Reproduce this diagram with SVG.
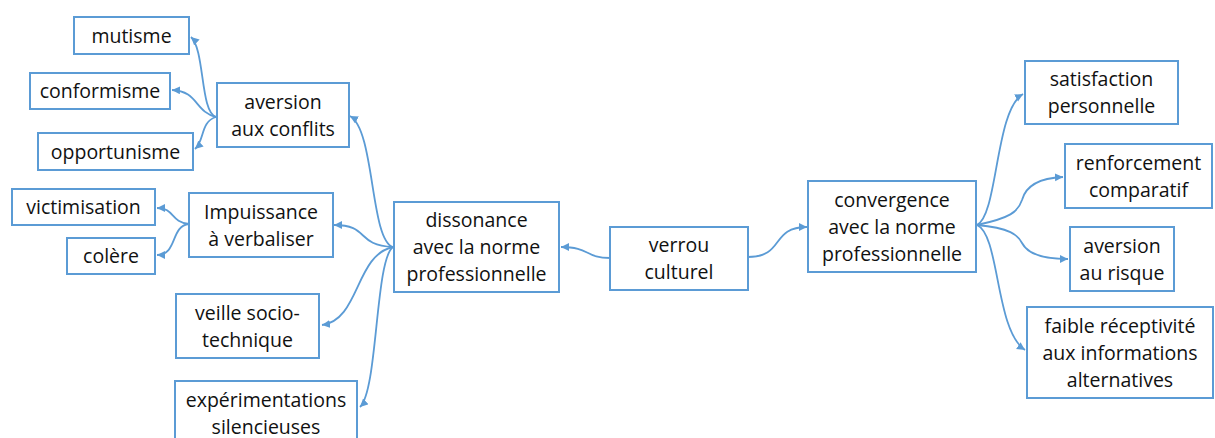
<svg xmlns="http://www.w3.org/2000/svg" width="1215" height="438" viewBox="0 0 1215 438">
<style>
.box{fill:#fff;stroke:#5B9BD5;stroke-width:2}
.t{font-family:"Open Sans","Noto Sans",sans-serif;font-size:19.5px;fill:#111;text-anchor:middle}
.c{fill:none;stroke:#5B9BD5;stroke-width:1.8;marker-end:url(#ah)}
</style>
<defs>
<marker id="ah" markerUnits="userSpaceOnUse" markerWidth="10" markerHeight="10" refX="8" refY="4" orient="auto">
<path d="M0,0 L8,4 L0,8 Z" fill="#5B9BD5"/>
</marker>
</defs>
<rect width="1215" height="438" fill="#fff"/>
<g id="connectors">
<path class="c" d="M216,117 C200,112 205,50 191,37"/>
<path class="c" d="M216,117 C195,112 198,91 172,90"/>
<path class="c" d="M216,117 C200,122 205,140 195,149"/>
<path class="c" d="M189,224 C170,222 175,208 157,208"/>
<path class="c" d="M189,224 C170,226 178,255 157,255"/>
<path class="c" d="M393,247 C370,240 375,130 350,116"/>
<path class="c" d="M393,247 C355,245 370,225 334,225"/>
<path class="c" d="M393,247 C355,255 360,320 322,325"/>
<path class="c" d="M393,247 C375,260 378,390 360,407"/>
<path class="c" d="M610,258 C585,258 590,247 561,247"/>
<path class="c" d="M748,257 C785,257 770,227 807,227"/>
<path class="c" d="M977,225 C998,215 995,110 1023,94"/>
<path class="c" d="M977,225 C1010,218 1018,212 1022,200 C1026,185 1040,178 1063,177"/>
<path class="c" d="M977,225 C1010,228 1018,235 1022,243 C1028,255 1045,259 1068,259"/>
<path class="c" d="M977,225 C1000,235 995,330 1025,350"/>
</g>
<g id="mutisme"><rect class="box" x="74" y="17" width="115" height="37"/><text class="t" x="131.5" y="42.5">mutisme</text></g>
<g id="conformisme"><rect class="box" x="30" y="73" width="140" height="36"/><text class="t" x="100" y="98">conformisme</text></g>
<g id="opportunisme"><rect class="box" x="38" y="133" width="155" height="37"/><text class="t" x="115.5" y="158.5">opportunisme</text></g>
<g id="aversion-conflits"><rect class="box" x="217" y="83" width="132" height="64"/><text class="t" x="283" y="108.5">aversion</text><text class="t" x="283" y="135.5">aux conflits</text></g>
<g id="victimisation"><rect class="box" x="12" y="189" width="143" height="36"/><text class="t" x="83.5" y="214">victimisation</text></g>
<g id="colere"><rect class="box" x="67" y="238" width="88" height="36"/><text class="t" x="111" y="263">colère</text></g>
<g id="impuissance"><rect class="box" x="189" y="193" width="144" height="64"/><text class="t" x="261" y="218.5">Impuissance</text><text class="t" x="261" y="245.5">à verbaliser</text></g>
<g id="veille"><rect class="box" x="176" y="294" width="143" height="64"/><text class="t" x="247.5" y="319.5">veille socio-</text><text class="t" x="247.5" y="346.5">technique</text></g>
<g id="experimentations"><rect class="box" x="175" y="381" width="182" height="64"/><text class="t" x="266" y="406.5">expérimentations</text><text class="t" x="266" y="433.5">silencieuses</text></g>
<g id="dissonance"><rect class="box" x="394" y="202" width="165" height="90"/><text class="t" x="476.5" y="227">dissonance</text><text class="t" x="476.5" y="254">avec la norme</text><text class="t" x="476.5" y="281">professionnelle</text></g>
<g id="verrou"><rect class="box" x="610" y="227" width="138" height="63"/><text class="t" x="679" y="252">verrou</text><text class="t" x="679" y="279">culturel</text></g>
<g id="convergence"><rect class="box" x="808" y="181" width="168" height="91"/><text class="t" x="892" y="206.5">convergence</text><text class="t" x="892" y="233.5">avec la norme</text><text class="t" x="892" y="260.5">professionnelle</text></g>
<g id="satisfaction"><rect class="box" x="1025" y="61" width="153" height="63"/><text class="t" x="1101.5" y="86">satisfaction</text><text class="t" x="1101.5" y="113">personnelle</text></g>
<g id="renforcement"><rect class="box" x="1065" y="144" width="147" height="64"/><text class="t" x="1138.5" y="169.5">renforcement</text><text class="t" x="1138.5" y="196.5">comparatif</text></g>
<g id="aversion-risque"><rect class="box" x="1070" y="227" width="104" height="64"/><text class="t" x="1122" y="252.5">aversion</text><text class="t" x="1122" y="279.5">au risque</text></g>
<g id="faible"><rect class="box" x="1027" y="307" width="186" height="91"/><text class="t" x="1120" y="332.5">faible réceptivité</text><text class="t" x="1120" y="359.5">aux informations</text><text class="t" x="1120" y="386.5">alternatives</text></g>
</svg>
